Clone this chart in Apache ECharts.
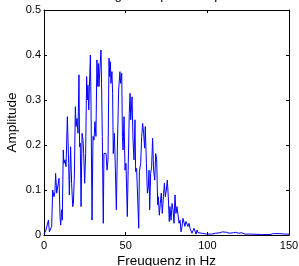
<!DOCTYPE html>
<html>
<head>
<meta charset="utf-8">
<script src="https://cdn.jsdelivr.net/npm/echarts@6/dist/echarts.min.js"></script>
<style>
  html, body { margin: 0; padding: 0; background: #fff; }
  #chart { width: 299px; height: 266px; }
</style>
</head>
<body>
<div id="chart"></div>
<script>
// Frequenzen (Hz) und Amplituden
const freqs = [
  0, 1.2, 2.0, 2.7, 3.3, 4.1, 4.7, 5.3, 6.1, 6.7, 7.1, 7.8, 8.4, 9.2, 9.8, 10.2,
  10.8, 11.2, 11.8, 12.2, 12.9, 13.5, 14.3, 15.1, 15.5, 16.3, 16.9, 17.6, 18.0, 18.6,
  19.2, 19.6, 20.2, 20.8, 21.4, 21.8, 22.2, 22.7, 23.3, 23.9, 24.3, 24.9, 25.5, 26.1,
  26.5, 26.9, 27.4, 27.8, 28.4, 28.8, 29.4, 30.0, 30.6, 31.2, 31.8, 32.4, 32.9, 33.3,
  33.7, 34.3, 34.9, 35.3, 35.7, 36.3, 36.7, 37.4, 38.0, 38.6, 39.2, 39.8, 40.2, 40.6,
  41.0, 41.6, 42.0, 42.4, 43.1, 43.7, 44.3, 44.9, 45.7, 46.5, 46.9, 47.6, 48.0, 48.4,
  49.0, 49.6, 50.2, 51.0, 51.6, 52.2, 52.7, 53.1, 53.9, 54.5, 55.1, 55.7, 56.1, 56.7,
  57.4, 58.0, 58.4, 59.2, 59.8, 60.4, 61.0, 61.6, 62.0, 62.7, 63.3, 63.9, 64.3, 64.7,
  65.3, 65.9, 66.5, 67.1, 67.8, 68.4, 69.0, 69.6, 70.0, 70.6, 71.2, 71.8, 72.4, 73.1,
  73.7, 74.3, 74.9, 75.5, 76.1, 76.7, 77.1, 77.8, 78.4, 79.0, 79.6, 80.2, 80.8, 81.4,
  82.0, 82.7, 83.3, 83.9, 84.5, 85.1, 85.7, 86.3, 86.9, 87.6, 88.2, 88.8, 89.4, 90.0,
  90.6, 91.2, 91.8, 92.5, 93.1, 93.7, 94.3, 94.9, 95.5, 96.5, 99.6, 102.7, 105.1, 106.3,
  107.8, 109.2, 110.4, 111.8, 113.3, 114.5, 116.0, 117.4, 119.0, 121.0, 123.1, 127.2,
  133.3, 138.4, 140.4, 144.5, 147.6, 150
];
const amps = [
  0.002, 0.011, 0.015, 0.033, 0.007, 0.005, 0.019, 0.100, 0.085, 0.096, 0.137, 0.093, 0.096, 0.126, 0.041, 0.022,
  0.056, 0.033, 0.189, 0.159, 0.167, 0.152, 0.263, 0.159, 0.089, 0.196, 0.115, 0.063, 0.070, 0.133,
  0.285, 0.241, 0.259, 0.226, 0.356, 0.196, 0.204, 0.063, 0.226, 0.211, 0.181, 0.115, 0.181, 0.352,
  0.300, 0.333, 0.278, 0.330, 0.400, 0.285, 0.033, 0.219, 0.211, 0.252, 0.219, 0.389, 0.330, 0.381,
  0.330, 0.374, 0.411, 0.322, 0.219, 0.026, 0.181, 0.181, 0.181, 0.144, 0.167, 0.393, 0.352, 0.385,
  0.337, 0.363, 0.315, 0.181, 0.226, 0.144, 0.056, 0.189, 0.322, 0.363, 0.337, 0.359, 0.219, 0.189,
  0.263, 0.144, 0.159, 0.041, 0.159, 0.270, 0.315, 0.256, 0.307, 0.211, 0.167, 0.256, 0.141, 0.148,
  0.144, 0.015, 0.141, 0.159, 0.219, 0.248, 0.226, 0.193, 0.241, 0.159, 0.093, 0.107, 0.144, 0.056,
  0.137, 0.152, 0.215, 0.144, 0.122, 0.181, 0.167, 0.067, 0.085, 0.044, 0.070, 0.093, 0.048, 0.085,
  0.115, 0.085, 0.100, 0.122, 0.085, 0.030, 0.063, 0.033, 0.070, 0.056, 0.026, 0.089, 0.048, 0.063,
  0.067, 0.026, 0.033, 0.007, 0.019, 0.037, 0.041, 0.019, 0.030, 0.026, 0.019, 0.026, 0.015, 0.019,
  0.004, 0.001, 0.015, 0.011, 0.002, 0.011, 0.005, 0.007, 0.002, 0.004, 0.002, 0.002, 0.004, 0.007,
  0.005, 0.007, 0.005, 0.006, 0.004, 0.007, 0.005, 0.006, 0.004, 0.005, 0.002, 0.002,
  0.001, 0.001, 0.003, 0.003, 0.002, 0.002
];
const xTicks = [0, 50, 100, 150];
const yTicks = [0, 0.1, 0.2, 0.3, 0.4, 0.5];

const titleText = 'Einseitiges Amplitudenspektrum';
const xName = 'Freuquenz in Hz';
const yName = 'Amplitude';

const font = 'Liberation Sans, Arial, Helvetica, sans-serif';
const myChart = echarts.init(document.getElementById('chart'));

const axisCommon = {
  axisLine: { show: true, onZero: false, lineStyle: { color: '#000', width: 1 } },
  axisTick: { show: true, inside: true, length: 3, lineStyle: { color: '#000' } },
  splitLine: { show: false }
};

const option = {
  backgroundColor: '#fff',
  animation: false,
  grid: { left: 44, right: 10, top: 10, bottom: 31, containLabel: false, outerBoundsMode: 'none' },
  graphic: [{
    type: 'text',
    x: 167,
    y: 2,
    style: {
      text: titleText,
      font: '13.5px ' + font,
      fill: '#000',
      textAlign: 'center',
      textVerticalAlign: 'bottom'
    }
  }],
  xAxis: [
    Object.assign({}, axisCommon, {
      type: 'value',
      min: xTicks[0],
      max: xTicks[xTicks.length - 1],
      interval: 50,
      name: xName,
      nameLocation: 'middle',
      nameGap: 19,
      nameMoveOverlap: false,
      nameTextStyle: { color: '#000', fontSize: 13.5, fontFamily: font },
      axisLabel: { color: '#000', fontSize: 11, fontFamily: font, margin: 5 }
    }),
    Object.assign({}, axisCommon, {
      type: 'value',
      position: 'top',
      min: xTicks[0],
      max: xTicks[xTicks.length - 1],
      interval: 50,
      axisLabel: { show: false }
    })
  ],
  yAxis: [
    Object.assign({}, axisCommon, {
      type: 'value',
      min: yTicks[0],
      max: yTicks[yTicks.length - 1],
      interval: 0.1,
      name: yName,
      nameLocation: 'middle',
      nameGap: 25,
      nameMoveOverlap: false,
      nameTextStyle: { color: '#000', fontSize: 13.5, fontFamily: font },
      axisLabel: { color: '#000', fontSize: 11, fontFamily: font, margin: 3 }
    }),
    Object.assign({}, axisCommon, {
      type: 'value',
      position: 'right',
      min: yTicks[0],
      max: yTicks[yTicks.length - 1],
      interval: 0.1,
      axisLabel: { show: false }
    })
  ],
  series: [{
    type: 'line',
    data: freqs.map((f, i) => [f, amps[i]]),
    showSymbol: false,
    symbol: 'none',
    lineStyle: { color: '#0000ff', width: 1 },
    xAxisIndex: 0,
    yAxisIndex: 0
  }]
};

myChart.setOption(option);
</script>
</body>
</html>
